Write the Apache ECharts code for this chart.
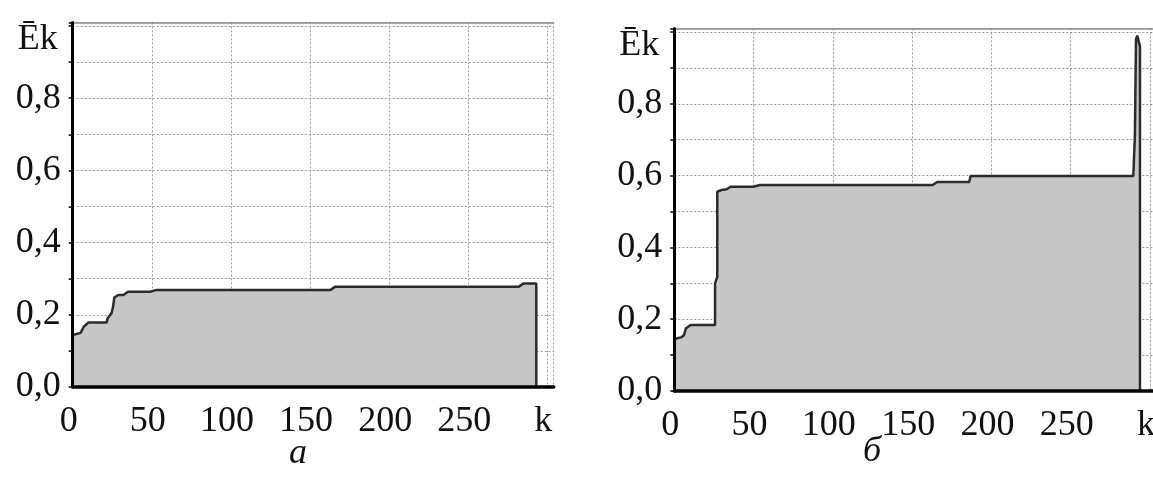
<!DOCTYPE html>
<html>
<head>
<meta charset="utf-8">
<script src="https://cdn.jsdelivr.net/npm/echarts@6/dist/echarts.min.js"></script>
<style>
  html, body { margin: 0; padding: 0; background: #fff; }
  #chart { width: 1153px; height: 479px; }
</style>
</head>
<body>
<div id="chart"></div>
<script>
// панель а — шаг k и среднее Ēk
const kA = [0, 0, 5, 7, 10, 21.5, 22, 24.5, 25.5, 26.3, 28.8, 32, 35, 49, 53, 163, 166, 282, 285, 293, 293]
const eA = [0, 0.144, 0.150, 0.167, 0.179, 0.179, 0.190, 0.204, 0.222, 0.248, 0.255, 0.255, 0.264, 0.264, 0.269, 0.269, 0.278, 0.278, 0.287, 0.287, 0]

// панель б
const kB = [0, 0, 4.7, 6.1, 7.4, 10.3, 25.7, 25.7, 27.1, 27.1, 29.9, 33, 35.6, 49.8, 54, 163, 165.8, 186, 186.9, 289.5, 290.5, 291.2, 292, 293, 293.7, 293.7]
const eB = [0, 0.145, 0.150, 0.156, 0.175, 0.184, 0.184, 0.300, 0.318, 0.555, 0.560, 0.562, 0.569, 0.569, 0.574, 0.574, 0.582, 0.582, 0.599, 0.599, 0.712, 0.980, 0.990, 0.985, 0.960, 0]

const xTickLabels = { 0: '0', 50: '50', 100: '100', 150: '150', 200: '200', 250: '250', 300: 'k' }
const yTickLabels = { 0: '0,0', 2: '0,2', 4: '0,4', 6: '0,6', 8: '0,8' }
const captions = ['а', 'б']

const FONT = "'Liberation Serif', 'Times New Roman', serif"
const grids = [
  { left: 72.7, top: 22.4, width: 481, height: 364.6, outerBoundsMode: 'none', containLabel: false },
  { left: 674.3, top: 28.4, width: 482, height: 362.6, outerBoundsMode: 'none', containLabel: false }
]

function zip(ks, es) {
  return ks.map((k, i) => [k, es[i]])
}

const xAxes = []
const yAxes = []
grids.forEach((g, i) => {
  // сетка (под заливкой)
  xAxes.push({
    type: 'value', gridIndex: i, position: 'bottom', min: 0, max: 304, interval: 50,
    axisLine: { show: false }, axisTick: { show: false }, axisLabel: { show: false },
    splitLine: { show: true, lineStyle: { color: '#9a9a9a', width: 1, type: [2, 2] } }
  })
  // ось с подписями (поверх)
  xAxes.push({
    type: 'value', gridIndex: i, position: 'bottom', min: 0, max: 304, interval: 50, z: 10,
    axisLine: { show: true, lineStyle: { color: '#000', width: 3.5 } },
    axisTick: { show: false },
    splitLine: { show: false },
    axisLabel: {
      show: true, margin: 17, fontFamily: FONT, fontSize: 36, color: '#111',
      padding: [0, 8, 0, 0],
      showMaxLabel: false, hideOverlap: false,
      formatter: v => xTickLabels[v] !== undefined ? xTickLabels[v] : ''
    }
  })
  // верхняя рамка
  xAxes.push({
    type: 'value', gridIndex: i, position: 'top', min: 0, max: 304, z: 1,
    axisLine: { show: true, lineStyle: { color: '#8a8a8a', width: 1.5 } },
    axisTick: { show: false }, axisLabel: { show: false }, splitLine: { show: false }
  })
  yAxes.push({
    type: 'value', gridIndex: i, position: 'left', min: 0, max: 1.01, interval: 0.1,
    axisLine: { show: false }, axisTick: { show: false }, axisLabel: { show: false },
    splitLine: { show: true, lineStyle: { color: '#9a9a9a', width: 1, type: [2, 2] } }
  })
  yAxes.push({
    type: 'value', gridIndex: i, position: 'left', min: 0, max: 1.01, interval: 0.1, z: 10,
    name: 'Ēk', nameLocation: 'end', nameGap: -17,
    nameTextStyle: { fontFamily: FONT, fontSize: 36, color: '#111', align: 'right', verticalAlign: 'middle', padding: [0, 15, 0, 0] },
    axisLine: { show: true, lineStyle: { color: '#000', width: 3 } },
    axisTick: { show: true, length: 4, lineStyle: { color: '#000', width: 1.5 } },
    splitLine: { show: false },
    axisLabel: {
      show: true, margin: 12, fontFamily: FONT, fontSize: 36, color: '#111',
      formatter: v => {
        const t = Math.round(v * 10)
        if (Math.abs(v * 10 - t) > 1e-6) return ''
        return yTickLabels[t] || ''
      }
    }
  })
})

const series = [zip(kA, eA), zip(kB, eB)].map((data, i) => ({
  type: 'line',
  xAxisIndex: i * 3,
  yAxisIndex: i * 2,
  data,
  showSymbol: false,
  smooth: false,
  z: 5,
  lineStyle: { color: '#2b2b2b', width: 2.5 },
  areaStyle: { color: '#c6c6c6', opacity: 1 },
  animation: false
}))

const chart = echarts.init(document.getElementById('chart'))
chart.setOption({
  backgroundColor: '#fff',
  animation: false,
  grid: grids,
  xAxis: xAxes,
  yAxis: yAxes,
  series,
  graphic: [
    { type: 'text', left: 289, top: 436, style: { text: captions[0], font: `italic 36px ${FONT}`, fill: '#111' } },
    { type: 'text', left: 863, top: 434, style: { text: captions[1], font: `italic 36px ${FONT}`, fill: '#111' } }
  ]
})
</script>
</body>
</html>
